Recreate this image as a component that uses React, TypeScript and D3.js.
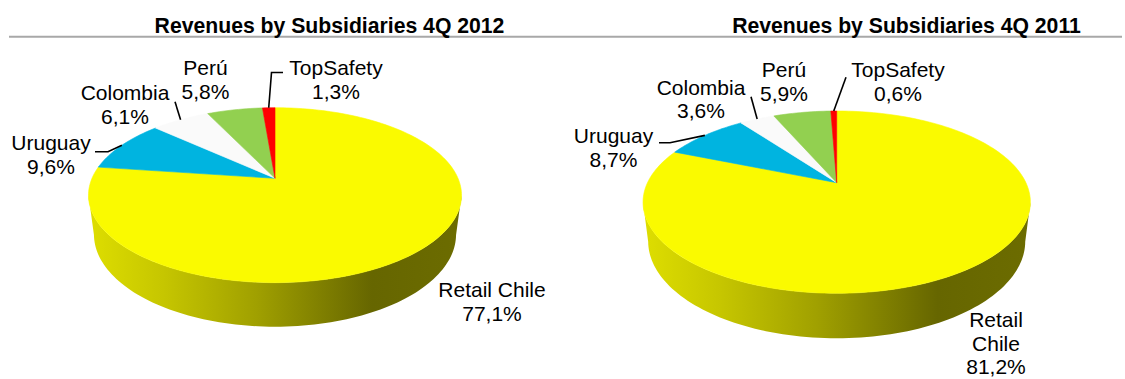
import React from "react";
import * as d3 from "d3";

const categories = ["Retail Chile", "Uruguay", "Colombia", "Perú", "TopSafety"];
const values2012 = [77.1, 9.6, 6.1, 5.8, 1.3];
const values2011 = [81.2, 8.7, 3.6, 5.9, 0.6];
const titles = ["Revenues by Subsidiaries 4Q 2012", "Revenues by Subsidiaries 4Q 2011"];
const sliceColors = ["#fafa00", "#00b4e0", "#fafafa", "#92d050", "#ff0000"];

const FONT = "'Liberation Sans', Arial, Helvetica, sans-serif";

type Geo = { cx: number; cy: number; A: number; B: number; a: number; cT: number; ET: number };

type LabelLayout = { x: number; y: number; lines?: string[]; leader?: [number, number][] };

const layouts: { geo: Geo; titleX: number; labels: LabelLayout[] }[] = [
  {
    geo: { cx: 275, cy: 178.3, A: 183, B: 84.2, a: 0.193, cT: 0.029, ET: 39.9 },
    titleX: 329.5,
    labels: [
      { x: 492, y: 296.7 },
      { x: 51, y: 150, leader: [[95, 151.7], [108, 151.7]] },
      { x: 125, y: 100, leader: [[175, 101.7]] },
      { x: 205.5, y: 75 },
      { x: 336, y: 75, leader: [[283, 72.5], [271.5, 72.5]] },
    ],
  },
  {
    geo: { cx: 836.7, cy: 182.7, A: 189.2, B: 87.0, a: 0.2134, cT: 0.026, ET: 39.4 },
    titleX: 906.5,
    labels: [
      { x: 996, y: 326.7, lines: ["Retail", "Chile"] },
      { x: 613.5, y: 143.3, leader: [[659, 142.7], [670, 142.7]] },
      { x: 701, y: 94.5, leader: [[751, 96.7]] },
      { x: 784, y: 76.7 },
      { x: 898, y: 76.7, leader: [[846, 77.3]] },
    ],
  },
];

const fmt = (v: number) => d3.format(".1f")(v).replace(".", ",") + "%";

function project(g: Geo, theta: number, r: number, bottom: boolean): [number, number] {
  const u = r * Math.sin(theta);
  const v = -r * Math.cos(theta);
  const w = 1 - g.a * v + (bottom ? g.cT : 0);
  return [g.cx + (g.A * u) / w, g.cy + (g.B * v + (bottom ? g.ET : 0)) / w];
}

function PieChart({ values, idx }: { values: number[]; idx: number }) {
  const L = layouts[idx];
  const g = L.geo;
  const pie = d3.pie<number>().sort(null).value((d) => d).startAngle(0).endAngle(2 * Math.PI);
  const arcs = pie(values);
  const line = d3.line<[number, number]>();

  const sample = (t0: number, t1: number, bottom: boolean) => {
    const n = Math.max(2, Math.ceil((Math.abs(t1 - t0) / (2 * Math.PI)) * 240));
    return d3.range(n + 1).map((i) => project(g, t0 + ((t1 - t0) * i) / n, 1, bottom));
  };

  // side wall (front, visible part)
  const t1 = Math.acos(-g.a);
  const t2 = 2 * Math.PI - t1;
  const topPts = sample(t1, t2, false);
  const botPts = sample(t2, t1, true);
  const sidePath = line([...topPts, ...botPts])! + "Z";
  const xl = project(g, t2, 1, false)[0];
  const xr = project(g, t1, 1, false)[0];
  const gid = `side-grad-${idx}`;

  const center: [number, number] = [g.cx, g.cy];

  return (
    <g>
      <defs>
        <linearGradient id={gid} gradientUnits="userSpaceOnUse" x1={xl} y1={0} x2={xr} y2={0}>
          <stop offset="0%" stopColor="#dede00" />
          <stop offset="20%" stopColor="#c6c600" />
          <stop offset="45%" stopColor="#a0a000" />
          <stop offset="76%" stopColor="#666600" />
          <stop offset="100%" stopColor="#6c6c00" />
        </linearGradient>
      </defs>
      <path d={sidePath} fill={`url(#${gid})`} />
      {arcs.map((a, i) => {
        const pts = [center, ...sample(a.startAngle, a.endAngle, false)];
        return (
          <path
            key={i}
            d={line(pts)! + "Z"}
            fill={sliceColors[i]}
            stroke={sliceColors[i]}
            strokeWidth={0.6}
            strokeLinejoin="round"
          />
        );
      })}
      {arcs.map((a, i) => {
        const lab = L.labels[i];
        if (!lab.leader) return null;
        const end = project(g, (a.startAngle + a.endAngle) / 2, 1, false);
        return (
          <path
            key={"l" + i}
            d={line([...lab.leader, end])!}
            fill="none"
            stroke="#000"
            strokeWidth={1.6}
          />
        );
      })}
      {arcs.map((a, i) => {
        const lab = L.labels[i];
        const lines = [...(lab.lines ?? [categories[i]]), fmt(values[i])];
        return (
          <text
            key={"t" + i}
            x={lab.x}
            y={lab.y}
            textAnchor="middle"
            fontFamily={FONT}
            fontSize={21}
            fill="#000"
          >
            {lines.map((s, k) => (
              <tspan key={k} x={lab.x} dy={k === 0 ? 0 : 23.8}>
                {s}
              </tspan>
            ))}
          </text>
        );
      })}
      <text
        x={L.titleX}
        y={32.5}
        textAnchor="middle"
        fontFamily={FONT}
        fontWeight="bold"
        fontSize={21.2}
        fill="#000"
      >
        {titles[idx]}
      </text>
    </g>
  );
}

export default function App() {
  return (
    <svg
      width={1125}
      height={379}
      style={{ position: "absolute", left: 0, top: 0, background: "#fff" }}
    >
      <rect x={0} y={0} width={1125} height={379} fill="#fff" />
      <line x1={9} x2={1122} y1={36.7} y2={36.7} stroke="#a8a8a8" strokeWidth={2} />
      <PieChart values={values2012} idx={0} />
      <PieChart values={values2011} idx={1} />
    </svg>
  );
}
